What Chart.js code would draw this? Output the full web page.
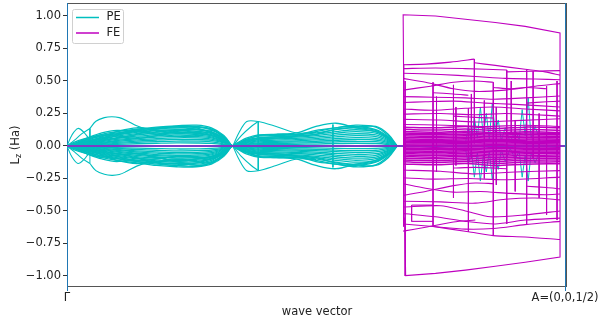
<!DOCTYPE html>
<html>
<head>
<meta charset="utf-8">
<script src="https://cdn.jsdelivr.net/npm/chart.js@4.4.1/dist/chart.umd.min.js"></script>
<style>
  html, body { margin: 0; padding: 0; background: #fff; }
  #wrap { width: 598px; height: 327px; position: relative; }
</style>
</head>
<body>
<div id="wrap"><canvas id="lzCanvas"></canvas></div>
<script>
// x ticks
const xTickValues = [0, 1];
const xTickLabels = ['Γ', 'A=(0,0,1/2)'];

// PE, first segment (Γ side), common x grid
const pe1X = [0, 0.015, 0.04, 0.07, 0.10, 0.14, 0.18, 0.22, 0.26, 0.29, 0.315, 0.331];
const pe1Upper = [
  [0, 0.03, 0.06, 0.09, 0.11, 0.13, 0.145, 0.155, 0.16, 0.14, 0.08, 0],
  [0, 0.02, 0.05, 0.08, 0.10, 0.12, 0.14, 0.15, 0.15, 0.13, 0.07, 0],
  [0, 0.015, 0.045, 0.075, 0.095, 0.125, 0.135, 0.14, 0.145, 0.125, 0.065, 0],
  [0, 0.012, 0.04, 0.065, 0.09, 0.11, 0.13, 0.14, 0.13, 0.11, 0.055, 0],
  [0, 0.01, 0.035, 0.06, 0.085, 0.105, 0.12, 0.125, 0.125, 0.105, 0.05, 0],
  [0, 0.01, 0.03, 0.05, 0.075, 0.095, 0.11, 0.12, 0.115, 0.095, 0.048, 0],
  [0, 0.008, 0.025, 0.045, 0.065, 0.085, 0.10, 0.105, 0.105, 0.088, 0.044, 0],
  [0, 0.007, 0.022, 0.04, 0.058, 0.075, 0.088, 0.095, 0.092, 0.08, 0.04, 0],
  [0, 0.006, 0.018, 0.034, 0.05, 0.065, 0.078, 0.085, 0.082, 0.07, 0.036, 0],
  [0, 0.005, 0.015, 0.028, 0.042, 0.056, 0.068, 0.074, 0.072, 0.062, 0.032, 0],
  [0, 0.004, 0.012, 0.023, 0.035, 0.047, 0.057, 0.063, 0.062, 0.053, 0.028, 0],
  [0, 0.003, 0.01, 0.018, 0.028, 0.038, 0.046, 0.051, 0.05, 0.043, 0.023, 0],
  [0, 0.002, 0.007, 0.013, 0.02, 0.028, 0.034, 0.038, 0.037, 0.032, 0.017, 0],
  [0, 0.001, 0.004, 0.008, 0.012, 0.017, 0.021, 0.024, 0.023, 0.02, 0.011, 0],
  [0, 0.01, 0.03, 0.07, 0.11, 0.14, 0.12, 0.10, 0.11, 0.12, 0.07, 0],
  [0, 0.02, 0.06, 0.10, 0.12, 0.11, 0.09, 0.11, 0.14, 0.13, 0.07, 0],
  [0, 0.005, 0.02, 0.04, 0.06, 0.09, 0.13, 0.15, 0.14, 0.10, 0.05, 0],
  [0, 0.015, 0.05, 0.085, 0.075, 0.06, 0.08, 0.12, 0.10, 0.08, 0.045, 0],
  [0, 0.008, 0.03, 0.055, 0.08, 0.12, 0.10, 0.075, 0.09, 0.105, 0.06, 0]
];
const pe1Lower = [
  [0, -0.03, -0.06, -0.09, -0.11, -0.13, -0.15, -0.16, -0.16, -0.14, -0.08, 0],
  [0, -0.02, -0.05, -0.08, -0.10, -0.12, -0.14, -0.15, -0.155, -0.13, -0.07, 0],
  [0, -0.015, -0.045, -0.075, -0.095, -0.12, -0.13, -0.14, -0.14, -0.12, -0.065, 0],
  [0, -0.012, -0.04, -0.065, -0.09, -0.11, -0.125, -0.135, -0.13, -0.11, -0.055, 0],
  [0, -0.01, -0.035, -0.06, -0.08, -0.1, -0.115, -0.125, -0.12, -0.1, -0.05, 0],
  [0, -0.01, -0.03, -0.05, -0.072, -0.092, -0.107, -0.115, -0.11, -0.093, -0.047, 0],
  [0, -0.008, -0.025, -0.045, -0.063, -0.082, -0.096, -0.103, -0.1, -0.085, -0.043, 0],
  [0, -0.007, -0.021, -0.039, -0.056, -0.072, -0.085, -0.092, -0.09, -0.078, -0.04, 0],
  [0, -0.006, -0.018, -0.033, -0.048, -0.063, -0.075, -0.082, -0.08, -0.068, -0.035, 0],
  [0, -0.005, -0.015, -0.027, -0.041, -0.054, -0.066, -0.072, -0.07, -0.06, -0.031, 0],
  [0, -0.004, -0.012, -0.022, -0.034, -0.046, -0.055, -0.061, -0.06, -0.052, -0.027, 0],
  [0, -0.003, -0.009, -0.017, -0.027, -0.037, -0.045, -0.05, -0.049, -0.042, -0.022, 0],
  [0, -0.002, -0.006, -0.012, -0.019, -0.027, -0.033, -0.037, -0.036, -0.031, -0.016, 0],
  [0, -0.001, -0.004, -0.008, -0.012, -0.016, -0.02, -0.023, -0.022, -0.019, -0.01, 0],
  [0, -0.01, -0.03, -0.07, -0.11, -0.135, -0.12, -0.10, -0.12, -0.13, -0.07, 0],
  [0, -0.02, -0.06, -0.10, -0.12, -0.10, -0.09, -0.12, -0.15, -0.13, -0.07, 0],
  [0, -0.005, -0.02, -0.04, -0.06, -0.09, -0.13, -0.15, -0.13, -0.10, -0.05, 0],
  [0, -0.015, -0.05, -0.085, -0.07, -0.06, -0.085, -0.12, -0.10, -0.085, -0.045, 0],
  [0, -0.008, -0.03, -0.055, -0.08, -0.115, -0.10, -0.08, -0.09, -0.10, -0.06, 0]
];
// PE loops and arcs near Γ
const pe1Loops = [
  [[0, 0], [0.01, 0.085], [0.022, 0.135], [0.034, 0.105], [0.046, 0.05], [0.06, 0.03]],
  [[0, 0], [0.015, 0.045], [0.03, 0.095], [0.046, 0.135]],
  [[0.046, 0.135], [0.058, 0.19], [0.075, 0.218], [0.09, 0.225], [0.105, 0.218], [0.12, 0.195], [0.14, 0.155], [0.16, 0.13], [0.20, 0.115], [0.25, 0.1], [0.29, 0.08], [0.315, 0.045], [0.331, 0]],
  [[0, 0], [0.01, -0.085], [0.022, -0.135], [0.034, -0.105], [0.046, -0.05], [0.06, -0.03]],
  [[0, 0], [0.015, -0.045], [0.03, -0.095], [0.046, -0.135]],
  [[0.046, -0.135], [0.058, -0.19], [0.075, -0.218], [0.09, -0.226], [0.105, -0.22], [0.12, -0.195], [0.14, -0.155], [0.16, -0.13], [0.20, -0.115], [0.25, -0.105], [0.29, -0.08], [0.315, -0.045], [0.331, 0]]
];

// PE, second segment
const pe2X = [0.331, 0.345, 0.36, 0.384, 0.42, 0.46, 0.50, 0.54, 0.58, 0.62, 0.645, 0.663];
const pe2Upper = [
  [0, 0.03, 0.06, 0.085, 0.09, 0.09, 0.11, 0.14, 0.15, 0.125, 0.07, 0],
  [0, 0.025, 0.05, 0.075, 0.08, 0.085, 0.10, 0.125, 0.14, 0.12, 0.065, 0],
  [0, 0.02, 0.045, 0.065, 0.072, 0.078, 0.09, 0.11, 0.125, 0.11, 0.06, 0],
  [0, 0.015, 0.038, 0.056, 0.063, 0.068, 0.08, 0.097, 0.11, 0.098, 0.054, 0],
  [0, 0.012, 0.03, 0.047, 0.054, 0.058, 0.068, 0.083, 0.094, 0.085, 0.047, 0],
  [0, 0.01, 0.025, 0.039, 0.045, 0.049, 0.057, 0.07, 0.079, 0.072, 0.04, 0],
  [0, 0.008, 0.02, 0.031, 0.036, 0.04, 0.047, 0.057, 0.064, 0.059, 0.033, 0],
  [0, 0.006, 0.015, 0.024, 0.028, 0.031, 0.036, 0.044, 0.05, 0.046, 0.026, 0],
  [0, 0.004, 0.01, 0.017, 0.02, 0.022, 0.026, 0.032, 0.036, 0.033, 0.018, 0],
  [0, 0.002, 0.006, 0.01, 0.012, 0.013, 0.015, 0.019, 0.021, 0.019, 0.011, 0],
  [0, 0.02, 0.05, 0.08, 0.09, 0.10, 0.15, 0.175, 0.14, 0.11, 0.06, 0],
  [0, 0.01, 0.03, 0.05, 0.06, 0.08, 0.12, 0.14, 0.16, 0.145, 0.08, 0],
  [0, 0.015, 0.04, 0.06, 0.07, 0.075, 0.09, 0.13, 0.145, 0.15, 0.09, 0]
];
const pe2Lower = [
  [0, -0.03, -0.06, -0.085, -0.09, -0.09, -0.11, -0.14, -0.15, -0.125, -0.07, 0],
  [0, -0.025, -0.05, -0.075, -0.08, -0.085, -0.10, -0.125, -0.14, -0.12, -0.065, 0],
  [0, -0.02, -0.045, -0.065, -0.072, -0.078, -0.09, -0.11, -0.125, -0.11, -0.06, 0],
  [0, -0.015, -0.038, -0.056, -0.063, -0.068, -0.08, -0.097, -0.11, -0.098, -0.054, 0],
  [0, -0.012, -0.03, -0.047, -0.054, -0.058, -0.068, -0.083, -0.094, -0.085, -0.047, 0],
  [0, -0.01, -0.025, -0.039, -0.045, -0.049, -0.057, -0.07, -0.079, -0.072, -0.04, 0],
  [0, -0.008, -0.02, -0.031, -0.036, -0.04, -0.047, -0.057, -0.064, -0.059, -0.033, 0],
  [0, -0.006, -0.015, -0.024, -0.028, -0.031, -0.036, -0.044, -0.05, -0.046, -0.026, 0],
  [0, -0.004, -0.01, -0.017, -0.02, -0.022, -0.026, -0.032, -0.036, -0.033, -0.018, 0],
  [0, -0.002, -0.006, -0.01, -0.012, -0.013, -0.015, -0.019, -0.021, -0.019, -0.011, 0],
  [0, -0.02, -0.05, -0.08, -0.09, -0.10, -0.15, -0.175, -0.14, -0.11, -0.06, 0],
  [0, -0.01, -0.03, -0.05, -0.06, -0.08, -0.12, -0.14, -0.16, -0.145, -0.08, 0],
  [0, -0.015, -0.04, -0.06, -0.07, -0.075, -0.09, -0.13, -0.145, -0.15, -0.09, 0]
];
const pe2Peaks = [
  [[0.333, 0], [0.345, 0.1], [0.361, 0.188], [0.384, 0.188], [0.42, 0.15], [0.461, 0.1], [0.50, 0.105]],
  [[0.333, 0], [0.35, 0.08], [0.37, 0.15], [0.384, 0.188]],
  [[0.333, 0], [0.345, -0.1], [0.361, -0.19], [0.384, -0.19], [0.42, -0.15], [0.461, -0.1], [0.50, -0.105]],
  [[0.333, 0], [0.35, -0.08], [0.37, -0.15], [0.384, -0.19]]
];
// PE vertical jumps [x, y1, y2]
const peSteps = [
  [0.046, 0.135, 0.05], [0.046, -0.135, -0.05],
  [0.384, 0.188, -0.19], [0.534, 0.165, -0.165]
];
// PE spikes inside the FE segment
const pe3Spikes = [
  [[0.80, 0.02], [0.806, 0.15], [0.812, 0.04], [0.818, 0.22], [0.824, 0.06], [0.83, 0.3], [0.836, 0.08], [0.842, 0.25], [0.848, 0.05], [0.854, 0.33], [0.86, 0.1], [0.866, 0.2], [0.872, 0.04], [0.88, 0.14], [0.89, 0.03], [0.90, 0.12], [0.908, 0.05], [0.914, 0.28], [0.92, 0.08], [0.926, 0.37], [0.932, 0.06], [0.94, 0.15], [0.95, 0.04]],
  [[0.80, -0.02], [0.806, -0.14], [0.812, -0.03], [0.818, -0.24], [0.824, -0.05], [0.83, -0.27], [0.836, -0.07], [0.842, -0.2], [0.848, -0.04], [0.854, -0.26], [0.86, -0.09], [0.866, -0.18], [0.872, -0.03], [0.88, -0.12], [0.89, -0.02], [0.90, -0.1], [0.908, -0.04], [0.914, -0.24], [0.92, -0.07], [0.926, -0.27], [0.932, -0.05], [0.94, -0.13], [0.95, -0.03]]
];

// FE, outer band that reaches ±1
const feOuter = [[0.677, 0], [0.675, 1.01], [0.74, 1.0], [0.80, 0.975], [0.86, 0.95], [0.92, 0.92], [0.99, 0.87], [0.99, -0.855], [0.92, -0.895], [0.86, -0.925], [0.80, -0.955], [0.74, -0.98], [0.68, -0.997], [0.678, -0.55]];
// FE bands
const feCurves = [
  [[0.675, 0.625], [0.72, 0.63], [0.77, 0.645], [0.818, 0.668]],
  [[0.818, 0.64], [0.86, 0.62], [0.92, 0.59], [0.96, 0.57], [0.99, 0.545]],
  [[0.675, 0.595], [0.74, 0.6], [0.80, 0.595], [0.883, 0.585]],
  [[0.883, 0.57], [0.936, 0.575], [0.99, 0.58]],
  [[0.675, 0.56], [0.75, 0.55], [0.82, 0.535], [0.88, 0.52], [0.94, 0.515], [0.99, 0.51]],
  [[0.675, 0.52], [0.72, 0.49], [0.776, 0.44], [0.82, 0.42], [0.88, 0.43], [0.94, 0.46], [0.99, 0.48]],
  [[0.675, 0.43], [0.73, 0.46], [0.776, 0.49], [0.82, 0.5], [0.856, 0.49]],
  [[0.675, 0.38], [0.735, 0.375], [0.80, 0.37], [0.856, 0.36], [0.92, 0.37], [0.99, 0.385]],
  [[0.675, 0.335], [0.72, 0.34], [0.776, 0.345], [0.84, 0.33], [0.90, 0.32], [0.99, 0.30]],
  [[0.675, 0.285], [0.735, 0.275], [0.80, 0.29], [0.856, 0.30], [0.92, 0.285], [0.99, 0.27]],
  [[0.675, 0.245], [0.75, 0.25], [0.82, 0.24], [0.88, 0.25], [0.94, 0.24], [0.99, 0.23]],
  [[0.675, 0.205], [0.75, 0.2], [0.82, 0.185], [0.90, 0.195], [0.99, 0.21]],
  [[0.675, 0.165], [0.76, 0.16], [0.84, 0.15], [0.92, 0.16], [0.99, 0.15]],
  [[0.735, 0.41], [0.776, 0.40], [0.806, 0.39]],
  [[0.856, 0.45], [0.892, 0.44], [0.923, 0.45], [0.963, 0.44]],
  [[0.776, 0.23], [0.82, 0.22], [0.856, 0.215]],
  [[0.923, 0.33], [0.963, 0.34], [0.99, 0.345]],
  [[0.675, -0.185], [0.75, -0.195], [0.82, -0.215], [0.90, -0.2], [0.99, -0.19]],
  [[0.675, -0.245], [0.735, -0.255], [0.806, -0.25], [0.88, -0.26], [0.99, -0.24]],
  [[0.675, -0.29], [0.72, -0.325], [0.776, -0.355], [0.83, -0.35], [0.89, -0.365], [0.96, -0.375], [0.99, -0.37]],
  [[0.675, -0.38], [0.72, -0.35], [0.776, -0.305], [0.82, -0.285], [0.856, -0.29]],
  [[0.675, -0.425], [0.75, -0.43], [0.82, -0.44], [0.88, -0.41], [0.94, -0.40], [0.99, -0.415]],
  [[0.675, -0.47], [0.75, -0.46], [0.80, -0.5], [0.85, -0.545], [0.92, -0.53], [0.99, -0.5]],
  [[0.675, -0.52], [0.74, -0.545], [0.80, -0.58], [0.86, -0.6], [0.92, -0.57], [0.99, -0.555]],
  [[0.675, -0.6], [0.735, -0.62], [0.80, -0.64], [0.856, -0.635], [0.92, -0.605], [0.99, -0.58]],
  [[0.675, -0.655], [0.72, -0.625], [0.776, -0.585], [0.82, -0.57]],
  [[0.735, -0.62], [0.806, -0.66], [0.856, -0.69], [0.92, -0.70], [0.99, -0.72]],
  [[0.692, -0.455], [0.735, -0.455]],
  [[0.692, -0.58], [0.735, -0.58]],
  [[0.776, -0.17], [0.82, -0.165], [0.883, -0.175]],
  [[0.923, -0.31], [0.963, -0.32], [0.99, -0.33]]
];
// FE dense core near zero
const feCoreX = [0.675, 0.74, 0.80, 0.86, 0.92, 0.99];
const feCore = [
  [0.145, 0.14, 0.15, 0.135, 0.145, 0.14],
  [0.128, 0.122, 0.13, 0.118, 0.126, 0.12],
  [0.112, 0.106, 0.114, 0.102, 0.11, 0.104],
  [0.1, 0.096, 0.102, 0.092, 0.1, 0.095],
  [0.09, 0.086, 0.09, 0.084, 0.088, 0.086],
  [0.078, 0.074, 0.078, 0.072, 0.076, 0.074],
  [0.066, 0.063, 0.067, 0.061, 0.065, 0.063],
  [0.056, 0.052, 0.055, 0.05, 0.054, 0.052],
  [0.046, 0.043, 0.046, 0.041, 0.045, 0.043],
  [0.036, 0.034, 0.037, 0.032, 0.035, 0.034],
  [0.026, 0.024, 0.028, 0.023, 0.026, 0.025],
  [0.016, 0.015, 0.018, 0.014, 0.017, 0.016],
  [0.007, 0.006, 0.008, 0.005, 0.007, 0.006],
  [-0.008, -0.009, -0.007, -0.01, -0.008, -0.009],
  [-0.018, -0.02, -0.017, -0.021, -0.018, -0.019],
  [-0.028, -0.03, -0.027, -0.032, -0.029, -0.028],
  [-0.038, -0.041, -0.037, -0.043, -0.039, -0.038],
  [-0.048, -0.051, -0.047, -0.054, -0.049, -0.048],
  [-0.058, -0.062, -0.057, -0.065, -0.06, -0.058],
  [-0.07, -0.074, -0.069, -0.078, -0.072, -0.07],
  [-0.082, -0.086, -0.08, -0.09, -0.084, -0.082],
  [-0.094, -0.099, -0.092, -0.103, -0.096, -0.094],
  [-0.108, -0.113, -0.106, -0.118, -0.11, -0.108],
  [-0.122, -0.128, -0.12, -0.133, -0.124, -0.122],
  [-0.138, -0.145, -0.135, -0.15, -0.14, -0.136]
];
// FE vertical jumps [x, y1, y2]
const feSteps = [
  [0.676, 0.63, -0.62], [0.679, 0.5, -1.0], [0.692, -0.455, -0.58],
  [0.735, 0.49, -0.62], [0.742, 0.38, -0.2], [0.776, 0.47, -0.4],
  [0.781, 0.3, -0.15], [0.806, 0.29, -0.66], [0.812, 0.4, -0.1],
  [0.818, 0.668, 0.02], [0.838, 0.35, -0.25], [0.856, 0.49, -0.69],
  [0.862, 0.3, -0.3], [0.883, 0.585, -0.6], [0.892, 0.5, 0.1],
  [0.9, 0.2, -0.35], [0.923, 0.59, -0.6], [0.936, 0.575, -0.1],
  [0.948, 0.25, -0.4], [0.963, 0.46, -0.53], [0.984, 0.5, -0.57]
];
// zero level (FE over PE in first two segments)
const zeroLine = [[0, 0], [1, 0]];

const PE_COLOR = '#00bfbf';
const FE_COLOR = '#bf00bf';

function line(points, color, width, tension, order) {
  return {
    data: points.map(p => ({ x: p[0], y: p[1] })),
    borderColor: color,
    borderWidth: width,
    tension: tension,
    order: order,
    showLine: true,
    pointRadius: 0,
    fill: false
  };
}

const datasets = [];
pe1Upper.concat(pe1Lower).forEach(ys => datasets.push(line(pe1X.map((x, i) => [x, ys[i]]), PE_COLOR, 1.3, 0.35, 3)));
pe1Loops.forEach(p => datasets.push(line(p, PE_COLOR, 1.1, 0.35, 3)));
pe2Upper.concat(pe2Lower).forEach(ys => datasets.push(line(pe2X.map((x, i) => [x, ys[i]]), PE_COLOR, 1.3, 0.35, 3)));
pe2Peaks.forEach(p => datasets.push(line(p, PE_COLOR, 1.1, 0.3, 3)));
peSteps.forEach(s => datasets.push(line([[s[0], s[1]], [s[0], s[2]]], PE_COLOR, 1, 0, 3)));
pe3Spikes.forEach(p => datasets.push(line(p, PE_COLOR, 1, 0, 3)));
datasets.push(line(zeroLine, '#7a3dc4', 2, 0, 2));
datasets.push(line(feOuter, FE_COLOR, 1.1, 0, 1));
feCurves.forEach(p => datasets.push(line(p, FE_COLOR, 1.1, 0.25, 1)));
feCore.forEach(ys => datasets.push(line(feCoreX.map((x, i) => [x, ys[i]]), FE_COLOR, 1.5, 0.3, 1)));
feSteps.forEach(s => datasets.push(line([[s[0], s[1]], [s[0], s[2]]], FE_COLOR, 1, 0, 1)));

const FONT = 'DejaVu Sans';
const TEXT = '#222';

const decorations = {
  id: 'decorations',
  beforeDraw(chart) {
    const { ctx, chartArea: a } = chart;
    ctx.save();
    ctx.strokeStyle = '#555';
    ctx.lineWidth = 1;
    ctx.strokeRect(a.left + 0.5, a.top + 0.5, a.right - a.left - 1, a.bottom - a.top - 1);
    ctx.restore();
  },
  afterDraw(chart) {
    const { ctx, chartArea: a, scales } = chart;
    ctx.save();
    ctx.fillStyle = TEXT;
    ctx.font = '11.5px "' + FONT + '"';
    ctx.textBaseline = 'top';
    ctx.textAlign = 'center';
    xTickValues.forEach((v, i) => {
      ctx.fillText(xTickLabels[i], scales.x.getPixelForValue(v), a.bottom + 5);
    });
    ctx.fillText('wave vector', (a.left + a.right) / 2, a.bottom + 19);

    // y title with subscript
    ctx.translate(16, (a.top + a.bottom) / 2);
    ctx.rotate(-Math.PI / 2);
    ctx.textBaseline = 'middle';
    ctx.textAlign = 'left';
    const big = '11.5px "' + FONT + '"', small = '8px "' + FONT + '"';
    ctx.font = big; const wL = ctx.measureText('L').width; const wR = ctx.measureText(' (Ha)').width;
    ctx.font = small; const wz = ctx.measureText('z').width;
    let x0 = -(wL + wz + wR) / 2;
    ctx.font = big; ctx.fillText('L', x0, 0);
    ctx.font = small; ctx.fillText('z', x0 + wL, 3);
    ctx.font = big; ctx.fillText(' (Ha)', x0 + wL + wz, 0);
    ctx.restore();

    // legend
    ctx.save();
    ctx.beginPath();
    ctx.roundRect(72.5, 9.5, 51, 34, 2);
    ctx.fillStyle = 'rgba(255,255,255,0.8)';
    ctx.fill();
    ctx.strokeStyle = '#d0d0d0';
    ctx.lineWidth = 1;
    ctx.stroke();
    [['PE', PE_COLOR, 17.5], ['FE', FE_COLOR, 33]].forEach(([t, c, y]) => {
      ctx.beginPath();
      ctx.strokeStyle = c;
      ctx.lineWidth = 1.5;
      ctx.moveTo(76, y); ctx.lineTo(99, y);
      ctx.stroke();
      ctx.fillStyle = TEXT;
      ctx.font = '11.5px "' + FONT + '"';
      ctx.textBaseline = 'middle';
      ctx.fillText(t, 106.5, y);
    });
    ctx.restore();
  }
};

new Chart(document.getElementById('lzCanvas'), {
  type: 'scatter',
  data: { datasets: datasets },
  options: {
    responsive: true,
    maintainAspectRatio: false,
    animation: false,
    layout: { padding: { top: 3, right: 31, left: 0, bottom: 0 } },
    plugins: { legend: { display: false }, tooltip: { enabled: false } },
    scales: {
      x: {
        type: 'linear',
        min: 0,
        max: 1.004,
        afterBuildTicks: axis => { axis.ticks = xTickValues.map(v => ({ value: v })); },
        afterFit: axis => { axis.height = 40; axis.paddingLeft = 0; axis.paddingRight = 0; },
        ticks: { display: false },
        border: { display: false },
        grid: { color: '#1f77b4', lineWidth: 1, drawTicks: true, tickLength: 4 }
      },
      y: {
        min: -1.085,
        max: 1.1,
        afterFit: axis => { axis.width = 67; axis.paddingTop = 0; axis.paddingBottom = 0; },
        border: { display: false },
        grid: { drawOnChartArea: false, drawTicks: true, tickLength: 4, color: '#333' },
        ticks: {
          stepSize: 0.25,
          includeBounds: false,
          padding: 2,
          color: TEXT,
          font: { family: FONT, size: 11.5 },
          callback: v => (v < 0 ? '\u2212' : '') + Math.abs(v).toFixed(2)
        }
      }
    }
  },
  plugins: [decorations]
});
</script>
</body>
</html>
